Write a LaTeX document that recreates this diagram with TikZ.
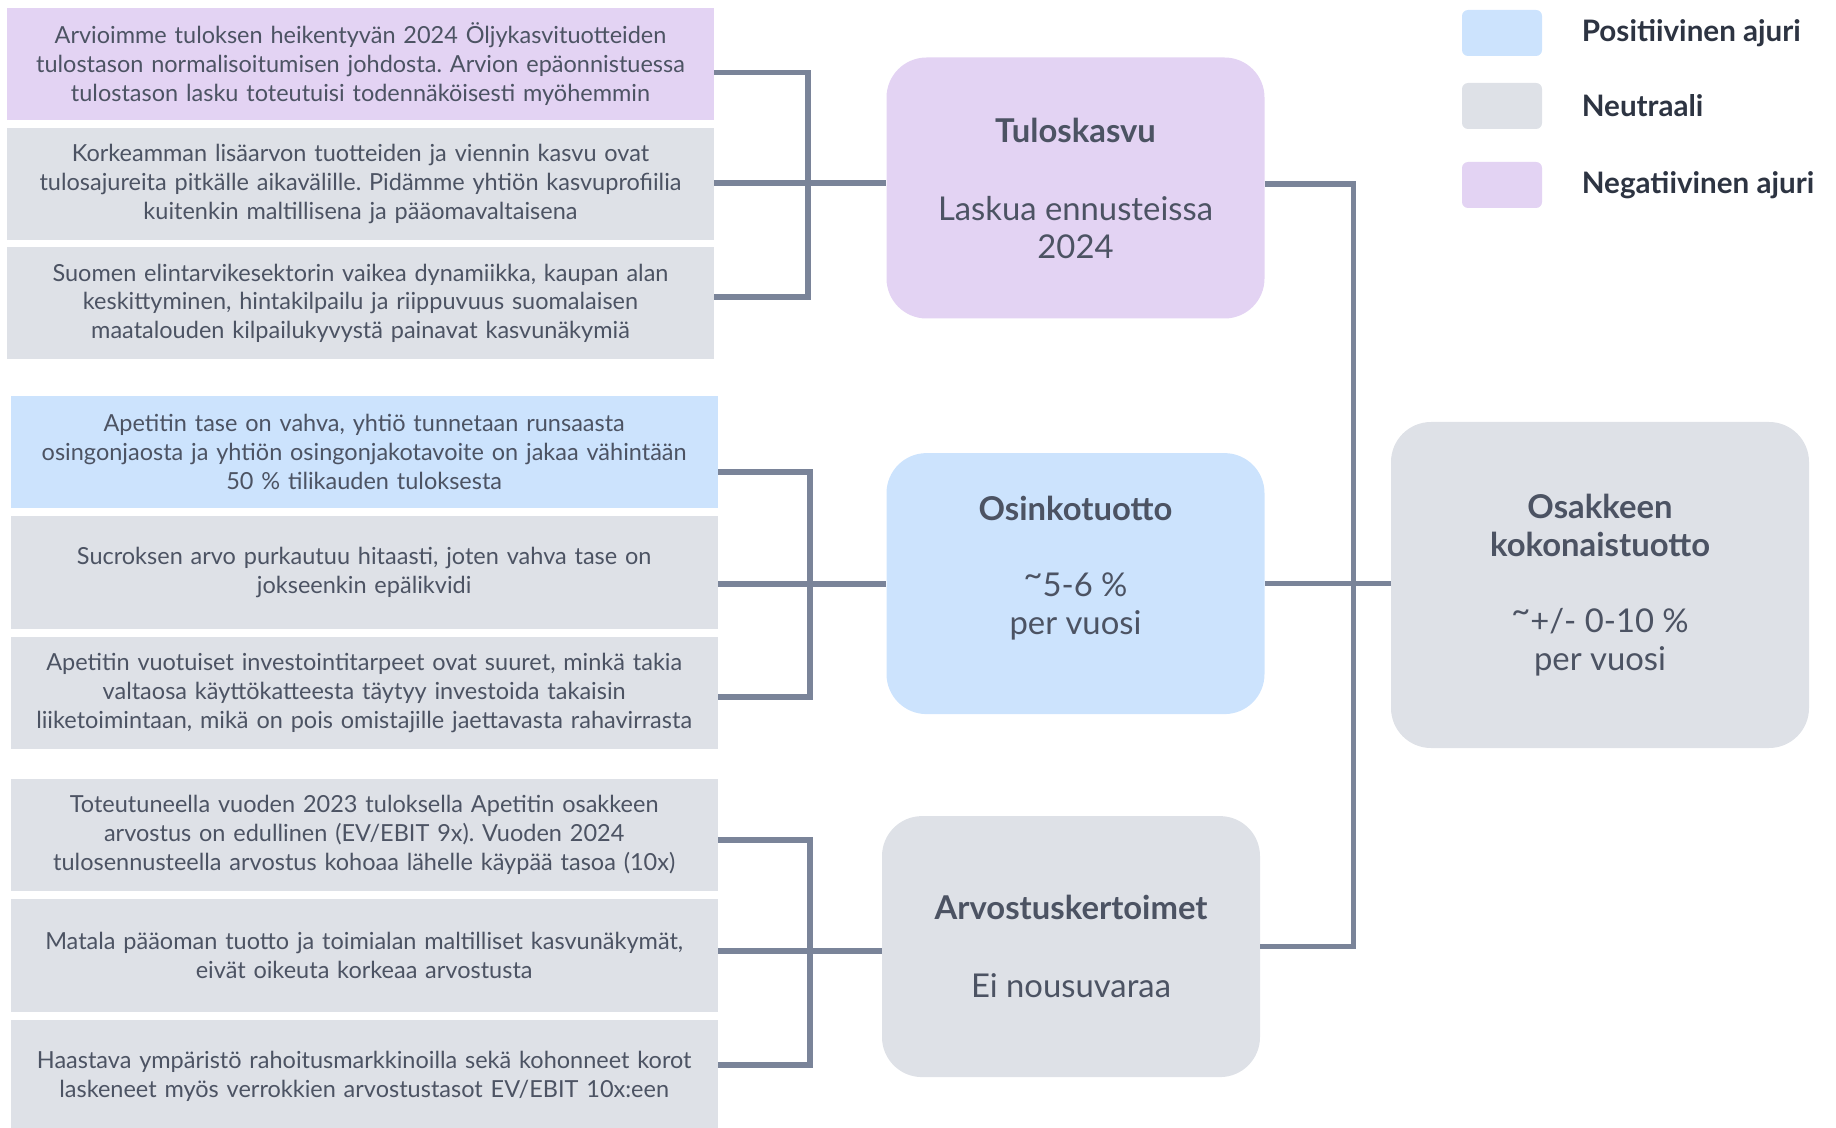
\documentclass[tikz,border=0pt]{standalone}
\usepackage{fontspec}
\setmainfont{Lato}
\frenchspacing
\usetikzlibrary{positioning}

\definecolor{negfill}{RGB}{227,211,243}
\definecolor{posfill}{RGB}{204,227,253}
\definecolor{neufill}{RGB}{222,225,231}
\definecolor{linkgray}{RGB}{122,132,153}
\definecolor{textgray}{RGB}{76,83,99}
\definecolor{keytextcol}{RGB}{45,52,66}

\newcommand{\apx}{\raisebox{.6ex}{\textasciitilde}}

\begin{document}
\begin{tikzpicture}[x=0.5pt,y=-0.5pt,
	driver/.style={fill=#1,text width=345pt,minimum width=353.5pt,minimum height=56.2pt,
		align=center,inner sep=0pt,text=textgray,font=\fontsize{11.75}{14.4}\selectfont},
	hub/.style={fill=#1,rounded corners=20pt,minimum width=189pt,minimum height=130.5pt,
		align=center,inner sep=0pt,text=textgray,font=\fontsize{16.4}{19}\selectfont},
	link/.style={draw=linkgray,line width=2.8pt},
	keybox/.style={fill=#1,rounded corners=3pt,minimum width=40pt,minimum height=23pt,inner sep=0pt},
	keylabel/.style={inner sep=0pt,text=keytextcol,font=\fontsize{14.8}{17}\selectfont\bfseries}]
	\useasboundingbox (0,0) rectangle (1836,1128);

	% drivers behind earnings growth
	\node[driver=negfill] (b1) at (360.5,63.8) {Arvioimme tuloksen heikentyvän 2024 Öljykasvituotteiden\\tulostason normalisoitumisen johdosta. Arvion epäonnistuessa\\tulostason lasku toteutuisi todennäköisesti myöhemmin};
	\node[driver=neufill] (b2) at (360.5,183.8) {Korkeamman lisäarvon tuotteiden ja viennin kasvu ovat\\tulosajureita pitkälle aikavälille. Pidämme yhtiön kasvuprofiilia\\kuitenkin maltillisena ja pääomavaltaisena};
	\node[driver=neufill] (b3) at (360.5,303.3) {Suomen elintarvikesektorin vaikea dynamiikka, kaupan alan\\keskittyminen, hintakilpailu ja riippuvuus suomalaisen\\maatalouden kilpailukyvystä painavat kasvunäkymiä};

	% drivers behind dividend yield
	\node[driver=posfill] (b4) at (364.2,451.9) {Apetitin tase on vahva, yhtiö tunnetaan runsaasta\\osingonjaosta ja yhtiön osingonjakotavoite on jakaa vähintään\\50 \% tilikauden tuloksesta};
	\node[driver=neufill] (b5) at (364.2,572.6) {Sucroksen arvo purkautuu hitaasti, joten vahva tase on\\jokseenkin epälikvidi};
	\node[driver=neufill] (b6) at (364.2,693.2) {Apetitin vuotuiset investointitarpeet ovat suuret, minkä takia\\valtaosa käyttökatteesta täytyy investoida takaisin\\liiketoimintaan, mikä on pois omistajille jaettavasta rahavirrasta};

	% drivers behind valuation multiples
	\node[driver=neufill] (b7) at (364.2,834.9) {Toteutuneella vuoden 2023 tuloksella Apetitin osakkeen\\arvostus on edullinen (EV/EBIT 9x). Vuoden 2024\\tulosennusteella arvostus kohoaa lähelle käypää tasoa (10x)};
	\node[driver=neufill] (b8) at (364.2,955.5) {Matala pääoman tuotto ja toimialan maltilliset kasvunäkymät,\\eivät oikeuta korkeaa arvostusta};
	\node[driver=neufill] (b9) at (364.2,1076) {Haastava ympäristö rahoitusmarkkinoilla sekä kohonneet korot\\laskeneet myös verrokkien arvostustasot EV/EBIT 10x:een};

	% return components
	\node[hub=negfill] (tulos) at (1075.5,188) {\textbf{Tuloskasvu}\\[20pt]Laskua ennusteissa\\2024};
	\node[hub=posfill] (osinko) at (1075.5,583.6) {\textbf{Osinkotuotto}\\[19pt]\apx5-6 \%\\per vuosi\\[-6pt]\strut};
	\node[hub=neufill] (arvo) at (1071,946.6) {\textbf{Arvostuskertoimet}\\[20pt]Ei nousuvaraa};
	\node[hub=neufill,minimum width=209pt,minimum height=163pt] (total) at (1600,585) {\textbf{Osakkeen}\\\textbf{kokonaistuotto}\\[19pt]\apx+/- 0-10 \%\\per vuosi};

	% junctions
	\coordinate (t1) at (808,72.6);
	\coordinate (m1) at (808,183);
	\coordinate (u1) at (808,297);
	\coordinate (t2) at (810,472);
	\coordinate (m2) at (810,584);
	\coordinate (u2) at (810,697);
	\coordinate (t3) at (810,840);
	\coordinate (m3) at (810,951);
	\coordinate (u3) at (810,1065);
	\coordinate (r1) at (1353.6,184);
	\coordinate (r3) at (1353.6,946.6);

	\draw[link] (b1.east |- t1) -- (t1) -- (u1) -- (b3.east |- u1);
	\draw[link] (b2.east |- m1) -- (tulos.west |- m1);
	\draw[link] (b4.east |- t2) -- (t2) -- (u2) -- (b6.east |- u2);
	\draw[link] (b5.east |- m2) -- (osinko.west |- m2);
	\draw[link] (b7.east |- t3) -- (t3) -- (u3) -- (b9.east |- u3);
	\draw[link] (b8.east |- m3) -- (arvo.west |- m3);
	\draw[link] (tulos.east |- r1) -- (r1) -- (r3) -- (arvo.east |- r3);
	\draw[link] (osinko.east) -- (total.west |- osinko.east);

	% legend
	\node[keybox=posfill] (kpos) at (1502,33) {};
	\node[keybox=neufill] (kneu) at (1502,106) {};
	\node[keybox=negfill] (kneg) at (1502,185) {};
	\node[keylabel,right=19.5pt of kpos] (lpos) {Positiivinen ajuri};
	\node[keylabel,right=19.5pt of kneu] (lneu) {Neutraali};
	\node[keylabel,right=19.5pt of kneg] (lneg) {Negatiivinen ajuri};
\end{tikzpicture}
\end{document}
